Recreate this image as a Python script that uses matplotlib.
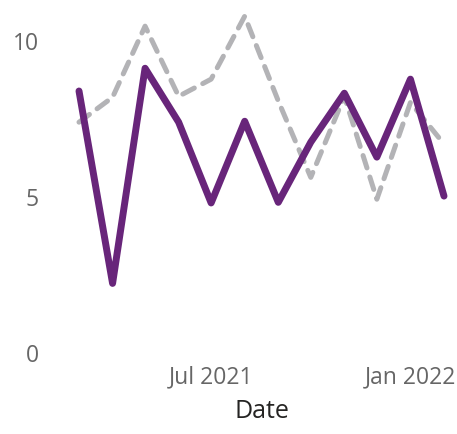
"""
Line chart: two monthly series, Mar 2021 - Feb 2022
"""

import matplotlib
matplotlib.use("Agg")
import matplotlib.pyplot as plt
import matplotlib.dates as mdates
import pandas as pd

# monthly dates (first of each month)
dates = pd.date_range("2021-03-01", "2022-02-01", freq="MS")

# solid purple series
purple_values = [8.37, 2.2, 9.1, 7.37, 4.78, 7.4, 4.8, 6.73, 8.3, 6.25, 8.75, 5.0]
# dashed grey series
grey_values = [7.37, 8.17, 10.45, 8.2, 8.75, 10.77, 8.05, 5.6, 8.2, 4.9, 8.0, 6.67]

# tick positions and labels
x_ticks = [pd.Timestamp("2021-07-01"), pd.Timestamp("2022-01-01")]
y_ticks = [0, 5, 10]

plt.rcParams["font.family"] = ["Open Sans", "DejaVu Sans"]

fig = plt.figure(figsize=(4.57, 4.35), dpi=100)
# axes placed so first / last month sit at the plot edges
ax = fig.add_axes([79 / 457, (435 - 353) / 435, (444 - 79) / 457, 343 / 435])

ax.plot(dates, grey_values, color="#b3b3b6", linewidth=3.6,
        linestyle=(0, (2.6, 1.9)), dash_capstyle="round",
        dash_joinstyle="round", clip_on=False, zorder=2)
ax.plot(dates, purple_values, color="#68257a", linewidth=5.0,
        solid_capstyle="round", solid_joinstyle="round", clip_on=False, zorder=3)

ax.set_xlim(dates[0], dates[-1])
ax.set_ylim(0, 11)

ax.set_xticks(x_ticks)
ax.xaxis.set_major_formatter(mdates.DateFormatter("%b %Y"))
ax.set_yticks(y_ticks)

ax.tick_params(axis="both", length=0, labelsize=16.5, colors="#666666")
ax.tick_params(axis="y", pad=29)
ax.tick_params(axis="x", pad=9)

# pretty up: no frame, no grid
for side in ["top", "right", "left", "bottom"]:
    ax.spines[side].set_visible(False)

ax.set_xlabel("Date", fontsize=18, color="#252423", labelpad=7)

fig.savefig("out.png", dpi=100)
